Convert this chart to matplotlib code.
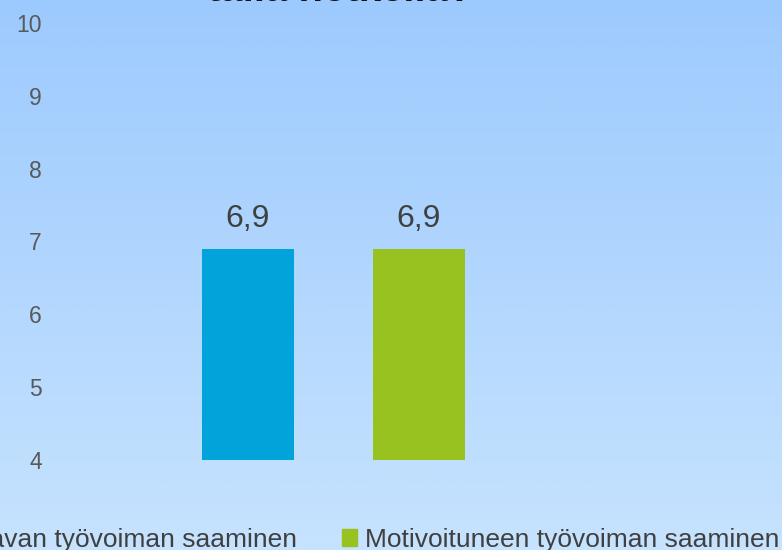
import numpy as np
import matplotlib
matplotlib.use("Agg")
import matplotlib.pyplot as plt
from matplotlib.colors import LinearSegmentedColormap
from matplotlib.patches import Patch

# Data
categories = ["Osaavan työvoiman saaminen", "Motivoituneen työvoiman saaminen"]
values = [6.9, 6.9]
value_labels = ["6,9", "6,9"]
bar_colors = ["#00A3DA", "#97C21F"]
yticks = [4, 5, 6, 7, 8, 9, 10]
title = "tällä hetkellä?"

plt.rcParams['font.family'] = ['Liberation Sans', 'DejaVu Sans']

fig = plt.figure(figsize=(7.82, 5.5), dpi=100)

# gradient background over the whole figure
bg = fig.add_axes([0, 0, 1, 1], zorder=-1)
grad = np.linspace(0, 1, 256).reshape(-1, 1)
cmap = LinearSegmentedColormap.from_list("bg", ["#9DCAFE", "#C6E3FE"])
bg.imshow(grad, aspect="auto", cmap=cmap, extent=[0, 1, 0, 1], origin="upper")
bg.axis("off")

# plot area: value 4 at y=460 px, value 10 at y=23 px
ax = fig.add_axes([50 / 782, 90 / 550, 732 / 782, 437 / 550])
ax.patch.set_alpha(0)

xpos = np.arange(len(values))
bars = ax.bar(xpos, [v - 4 for v in values], bottom=4, width=0.538,
              color=bar_colors, label=categories)
for b, lab in zip(bars, value_labels):
    ax.text(b.get_x() + b.get_width() / 2, b.get_y() + b.get_height() + 0.2, lab,
            ha="center", va="bottom", fontsize=23, color="#404040")

ax.set_xlim(-1.158, 3.123)
ax.set_ylim(4, 10)
ax.set_yticks(yticks)
ax.set_yticklabels([str(t) for t in yticks], fontsize=16.5, color="#595959")
ax.tick_params(axis="y", length=0, pad=6)
ax.set_xticks([])
for s in ax.spines.values():
    s.set_visible(False)

# title mostly above the canvas, as in the reference
fig.text(340 / 782, 1 - 1 / 550, title, ha="center", va="baseline",
         fontsize=29, fontweight="bold", color="#111111")

handles = [Patch(color=c) for c in bar_colors]
fig.legend(handles, categories, loc="lower right", bbox_to_anchor=(0.997, -0.003),
           ncol=2, frameon=False, fontsize=19, labelcolor="#404040",
           handlelength=0.58, handleheight=0.58, handletextpad=0.3,
           columnspacing=1.7, borderaxespad=0.0, borderpad=0.0)

fig.savefig("out.png", dpi=100)
